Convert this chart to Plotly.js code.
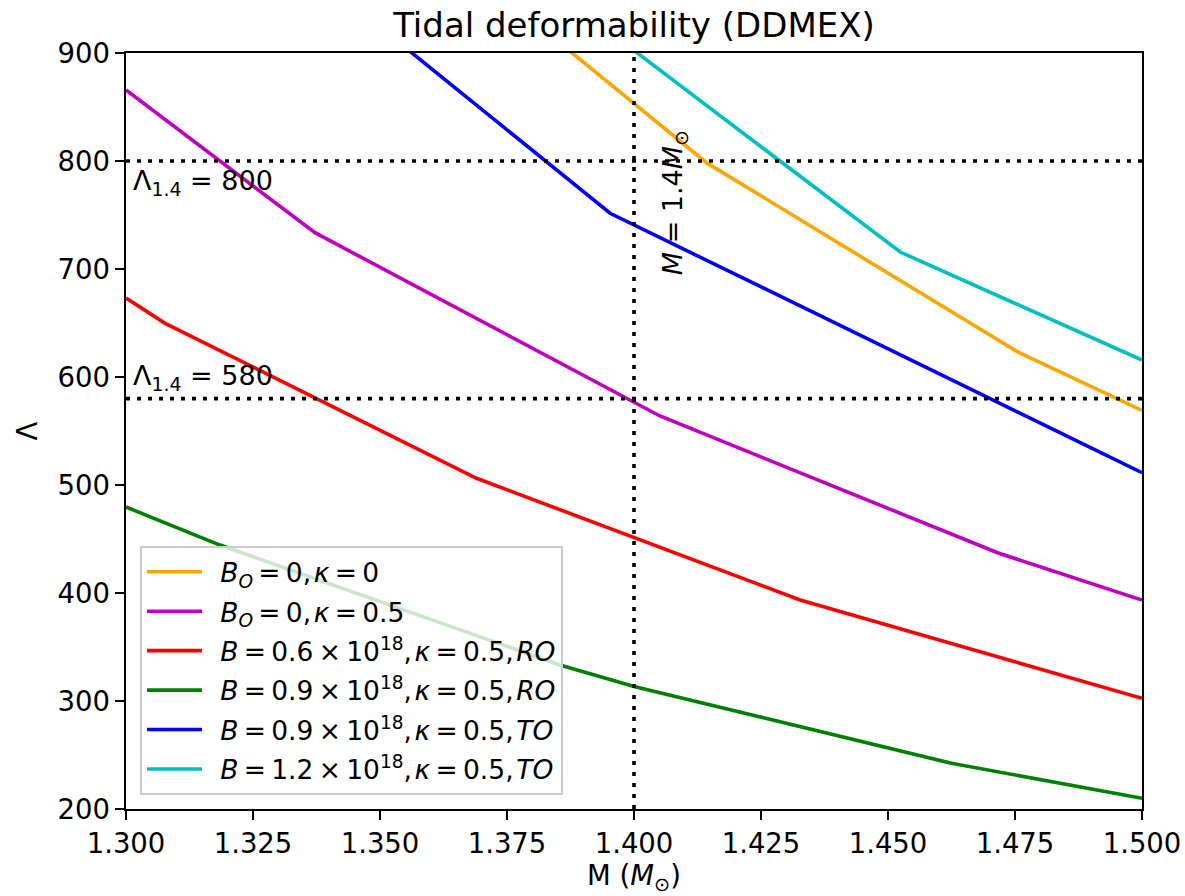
<!DOCTYPE html>
<html>
<head>
<meta charset="utf-8">
<script src="https://cdn.plot.ly/plotly-3.0.1.min.js"></script>
<style>html,body{margin:0;padding:0;background:#fff;}#chart{width:1185px;height:896px;}</style>
</head>
<body>
<div id="chart"></div>
<script>
// Data
const massOrange = [1.380, 1.4144, 1.4756, 1.500];
const lamOrange  = [930, 798, 623, 569];
const massPurple = [1.300, 1.3372, 1.4051, 1.4717, 1.500];
const lamPurple  = [865.7, 733.6, 563.9, 437, 393.5];
const massRed    = [1.300, 1.3077, 1.369, 1.4327, 1.500];
const lamRed     = [673.1, 649.7, 506.2, 393.5, 302.5];
const massGreen  = [1.300, 1.3185, 1.3854, 1.4002, 1.4625, 1.500];
const lamGreen   = [479.6, 444.4, 333.3, 313.2, 242.3, 209.9];
const massBlue   = [1.350, 1.3953, 1.500];
const lamBlue    = [924, 751.6, 511.4];
const massCyan   = [1.390, 1.4524, 1.500];
const lamCyan    = [938, 715.7, 615.7];

const T = '\u2009', H = '\u200a', LEAD = '\u2002';
const seriesNames = [
  LEAD + "<i>B</i><sub><i>O</i></sub>" + T + "=" + T + "0," + H + "<i>κ</i>" + T + "=" + T + "0",
  LEAD + "<i>B</i><sub><i>O</i></sub>" + T + "=" + T + "0," + H + "<i>κ</i>" + T + "=" + T + "0.5",
  LEAD + "<i>B</i>" + T + "=" + T + "0.6" + T + "×" + T + "10<sup>18</sup>," + H + "<i>κ</i>" + T + "=" + T + "0.5," + H + "<i>RO</i>",
  LEAD + "<i>B</i>" + T + "=" + T + "0.9" + T + "×" + T + "10<sup>18</sup>," + H + "<i>κ</i>" + T + "=" + T + "0.5," + H + "<i>RO</i>",
  LEAD + "<i>B</i>" + T + "=" + T + "0.9" + T + "×" + T + "10<sup>18</sup>," + H + "<i>κ</i>" + T + "=" + T + "0.5," + H + "<i>TO</i>",
  LEAD + "<i>B</i>" + T + "=" + T + "1.2" + T + "×" + T + "10<sup>18</sup>," + H + "<i>κ</i>" + T + "=" + T + "0.5," + H + "<i>TO</i>"
];
const seriesColors = ["#FFA500", "#BF00BF", "#FF0000", "#008000", "#0000FF", "#00BFBF"];

// Reference lines
const lambdaRefs = [800, 580];
const massRef = 1.4;
const xRange = [1.3, 1.5];
const yRange = [200, 900];

const xs = [massOrange, massPurple, massRed, massGreen, massBlue, massCyan];
const ys = [lamOrange, lamPurple, lamRed, lamGreen, lamBlue, lamCyan];

const traces = xs.map((x, i) => ({
  x: x, y: ys[i], type: 'scatter', mode: 'lines', name: seriesNames[i],
  legendgroup: 'g' + i,
  line: {color: seriesColors[i], width: 3.6}, cliponaxis: true
}));

const dotLine = {color: 'black', width: 3.6, dash: '4px,7px'};
lambdaRefs.forEach(v => traces.push({
  x: xRange, y: [v, v], type: 'scatter', mode: 'lines', showlegend: false,
  line: dotLine, hoverinfo: 'skip'
}));
traces.push({
  x: [massRef, massRef], y: yRange, type: 'scatter', mode: 'lines', showlegend: false,
  line: dotLine, hoverinfo: 'skip'
});

const F = 'DejaVu Sans, sans-serif';
const FS = 27.5;
const layout = {
  width: 1185, height: 896,
  margin: {l: 126, r: 43, t: 53, b: 87},
  paper_bgcolor: 'white', plot_bgcolor: 'white',
  font: {family: F, size: FS, color: 'black'},
  title: {text: 'Tidal deformability (DDMEX)', font: {family: F, size: 34, color: 'black'},
          x: 0.535, xanchor: 'center', y: 0.972, yanchor: 'middle'},
  xaxis: {
    range: xRange, dtick: 0.025, tick0: 1.3, tickformat: '.3f',
    showgrid: false, zeroline: false,
    showline: true, mirror: true, linecolor: 'black', linewidth: 1.6,
    ticks: 'outside', ticklen: 9, tickwidth: 1.6, tickcolor: 'black',
    tickfont: {family: F, size: FS, color: 'black'},
    title: {text: 'M (<i>M</i><sub>⊙</sub>)', font: {family: F, size: FS, color: 'black'}, standoff: 9}
  },
  yaxis: {
    range: yRange, dtick: 100, tick0: 200,
    showgrid: false, zeroline: false,
    showline: true, mirror: true, linecolor: 'black', linewidth: 1.6,
    ticks: 'outside', ticklen: 9, tickwidth: 1.6, tickcolor: 'black',
    tickfont: {family: F, size: FS, color: 'black'},
    title: {text: 'Λ', font: {family: F, size: FS, color: 'black'}, standoff: 12}
  },
  legend: {
    x: 0.0138, y: 0.0185, xanchor: 'left', yanchor: 'bottom',
    bgcolor: 'rgba(255,255,255,0.8)', bordercolor: '#cccccc', borderwidth: 2,
    font: {family: F, size: 26.5, color: 'black'}, itemwidth: 55, tracegroupgap: 2
  },
  annotations: [
    {x: xRange[0], y: lambdaRefs[0], xref: 'x', yref: 'y', xanchor: 'left', yanchor: 'top',
     xshift: 5, yshift: -2, showarrow: false, text: 'Λ<sub>1.4</sub> = 800',
     font: {family: F, size: 27, color: 'black'}},
    {x: xRange[0], y: lambdaRefs[1], xref: 'x', yref: 'y', xanchor: 'left', yanchor: 'bottom',
     xshift: 5, yshift: 2, showarrow: false, text: 'Λ<sub>1.4</sub> = 580',
     font: {family: F, size: 27, color: 'black'}},
    {x: 1.4079, y: 761, xref: 'x', yref: 'y', xanchor: 'center', yanchor: 'middle',
     textangle: -90, showarrow: false, text: '<i>M</i> = 1.4<i>M</i><sub>⊙</sub>',
     font: {family: F, size: 27, color: 'black'}}
  ],
  showlegend: true
};

Plotly.newPlot('chart', traces, layout, {displayModeBar: false, staticPlot: true});
</script>
</body>
</html>
